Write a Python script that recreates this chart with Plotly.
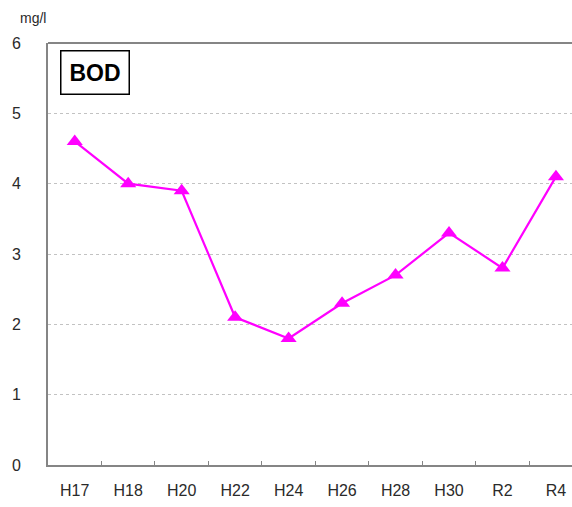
import plotly.graph_objects as go

# ── data ─────────────────────────────────────────────────────────────
years = ["H17", "H18", "H20", "H22", "H24", "H26", "H28", "H30", "R2", "R4"]
bod = [4.6, 4.0, 3.9, 2.1, 1.8, 2.3, 2.7, 3.3, 2.8, 4.1]

AXIS = "#858585"
GRID = "#c2c2c2"
TEXT = "#2a2a2a"
FONT = "Liberation Sans, Arial, sans-serif"

fig = go.Figure()

fig.add_trace(
    go.Scatter(
        x=years,
        y=bod,
        mode="lines+markers",
        line=dict(color="#ff00ff", width=2.2),
        marker=dict(symbol="triangle-up", size=14, color="#ff00ff"),
        showlegend=False,
    )
)

fig.update_layout(
    width=572,
    height=507,
    margin=dict(l=48, r=0, t=43, b=42),
    plot_bgcolor="white",
    paper_bgcolor="white",
    font=dict(family=FONT, size=16, color=TEXT),
    annotations=[
        dict(
            text="<b>BOD</b>", xref="paper", yref="paper", x=0.023, y=0.983,
            xanchor="left", yanchor="top", showarrow=False,
            font=dict(size=23, color="black"),
            bordercolor="black", borderwidth=1.5, borderpad=8, bgcolor="white",
        ),
        dict(
            text="mg/l", xref="paper", yref="paper", x=-0.029, y=1.035,
            xanchor="center", yanchor="bottom", showarrow=False,
            font=dict(size=14, color=TEXT),
        ),
    ],
)

fig.update_xaxes(
    type="category",
    range=[-0.5, 9.3],
    showline=True,
    linecolor=AXIS,
    linewidth=2,
    showgrid=False,
    ticks="inside",
    tickson="boundaries",
    ticklen=4,
    tickcolor=AXIS,
    ticklabelstandoff=10,
    fixedrange=True,
)

fig.update_yaxes(
    range=[0, 6],
    dtick=1,
    showline=True,
    linecolor=AXIS,
    linewidth=2,
    showgrid=True,
    gridcolor=GRID,
    griddash="dot",
    gridwidth=1.2,
    zeroline=False,
    ticks="",
    ticklabelstandoff=22,
    fixedrange=True,
)

# top border of the plot area
fig.add_shape(type="line", xref="paper", yref="paper", x0=0, x1=1, y0=1, y1=1,
              line=dict(color=AXIS, width=2))

# drop the default page margin so the chart sits at the window's corner
fig.write_html(
    "out.html",
    config={"displayModeBar": False},
    post_script="document.body.style.margin='0';",
)
